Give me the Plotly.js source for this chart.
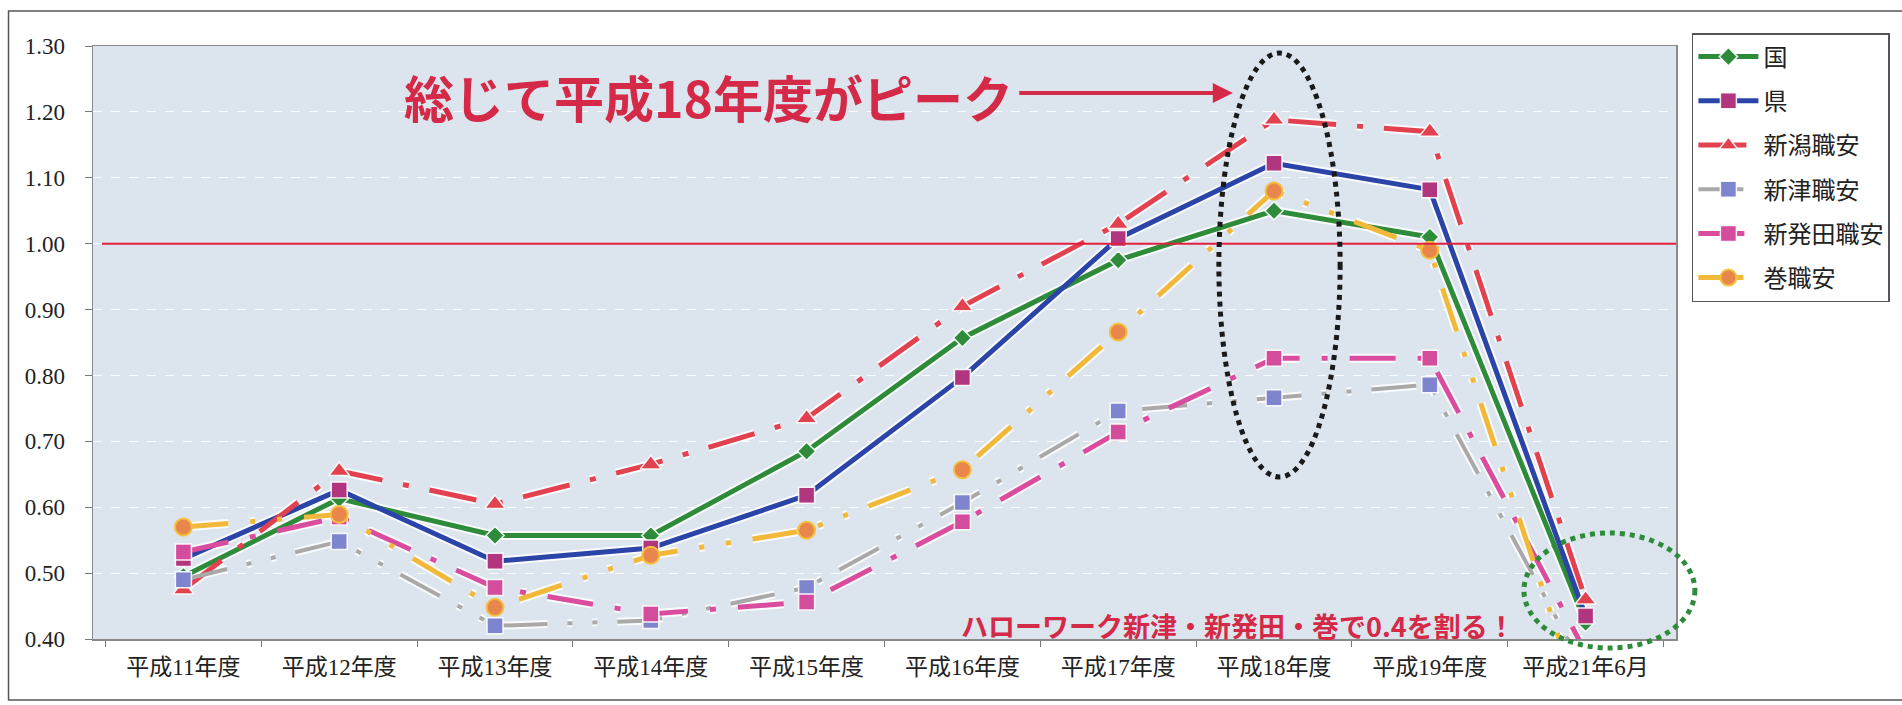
<!DOCTYPE html>
<html><head><meta charset="utf-8">
<script src="https://cdn.plot.ly/plotly-3.0.1.min.js"></script>
<style>html,body{margin:0;padding:0;background:#fff}#chart{width:1902px;height:705px}</style>
</head><body><div id="chart"></div>
<script>
// ---- data ----
const categories = ['平成11年度','平成12年度','平成13年度','平成14年度','平成15年度','平成16年度','平成17年度','平成18年度','平成19年度','平成21年6月'];
const seriesNames = ['国','県','新潟職安','新津職安','新発田職安','巻職安'];
const kuni     = [0.495, 0.613, 0.557, 0.557, 0.685, 0.857, 0.975, 1.050, 1.010, 0.425];
const ken      = [0.522, 0.626, 0.518, 0.538, 0.618, 0.797, 1.008, 1.122, 1.082, 0.435];
const niigata  = [0.475, 0.655, 0.605, 0.665, 0.735, 0.905, 1.030, 1.188, 1.170, 0.460];
const niitsu   = [0.490, 0.548, 0.420, 0.428, 0.478, 0.607, 0.746, 0.766, 0.786, 0.350];
const shibata  = [0.532, 0.585, 0.478, 0.438, 0.456, 0.578, 0.714, 0.826, 0.826, 0.380];
const maki     = [0.570, 0.589, 0.448, 0.527, 0.565, 0.657, 0.866, 1.080, 0.990, 0.280];
const yTickVals = [0.40,0.50,0.60,0.70,0.80,0.90,1.00,1.10,1.20,1.30];
const peakText = '総じて平成18年度がピーク';
const bottomText = 'ハローワーク新津・新発田・巻で0.4を割る！';

// ---- styles ----
const values = [kuni, ken, niigata, niitsu, shibata, maki];
const styles = [
  {color:'#2e8b3a', width:5, dash:'solid', marker:{symbol:'diamond', size:14, color:'#2e8b3a'}},
  {color:'#2a44a8', width:5, dash:'solid', marker:{symbol:'square', size:16, color:'#b2357f'}},
  {color:'#e2424f', width:5, dash:'48px,21px,6px,21px', marker:{symbol:'triangle-up', size:18, color:'#e2424f'}},
  {color:'#a9a9a9', width:4, dash:'45px,20px,5px,20px,5px,20px', marker:{symbol:'square', size:16, color:'#7f84cf'}},
  {color:'#d94c9e', width:5, dash:'46px,22px,6px,22px', marker:{symbol:'square', size:16, color:'#d44c9c'}},
  {color:'#f2b83a', width:5, dash:'45px,22px,5px,22px,5px,22px', marker:{symbol:'circle', size:17, color:'#e8864c', lineColor:'#f4c040'}}
];

const traces = [];
// white halos under lines
values.forEach((v,i)=>{
  const s = styles[i];
  traces.push({x:categories, y:v, type:'scatter', mode:'lines', showlegend:false, hoverinfo:'skip',
    line:{color:'rgba(255,255,255,0.85)', width:s.width+4, dash:s.dash}});
});
values.forEach((v,i)=>{
  const s = styles[i];
  traces.push({x:categories, y:v, type:'scatter', mode:'lines+markers', name:seriesNames[i],
    legendgroup:'g'+i,
    line:{color:s.color, width:s.width, dash:s.dash},
    marker:{symbol:s.marker.symbol, size:s.marker.size, color:s.marker.color,
      line:{color:s.marker.lineColor || 'rgba(255,255,255,0.9)', width:s.marker.lineColor?2:1.5}}});
});

const L=93, R=1686, T=46, B=639;
const px = x => (x-L)/(R-L);
const py = y => (B-y)/(B-T);
const red = '#d42a48';
const baseFont = '"Liberation Serif", "Noto Sans CJK JP", serif';

const layout = {
  width:1902, height:705,
  margin:{l:L, r:1902-R, t:T, b:705-B, pad:0},
  paper_bgcolor:'#ffffff', plot_bgcolor:'#dce5ee',
  font:{family:baseFont, size:22, color:'#222'},
  showlegend:true,
  legend:{x:px(1702), y:py(33), xanchor:'left', yanchor:'top', bgcolor:'#ffffff', bordercolor:'#555', borderwidth:1.5,
    font:{family:baseFont, size:24, color:'#222'},
    traceorder:'grouped', tracegroupgap:10, itemwidth:60},
  xaxis:{type:'category', tickson:'boundaries', ticks:'outside', ticklen:6, tickcolor:'#777',
    showline:true, linecolor:'#8a8a8a', linewidth:1.5, mirror:true, showgrid:false,
    tickfont:{size:23}, ticklabelstandoff:7, zeroline:false, fixedrange:true},
  yaxis:{range:[0.4,1.3], tickvals:yTickVals, tickformat:'.2f', ticks:'outside', ticklen:7, tickcolor:'#777',
    showline:true, linecolor:'#8a8a8a', linewidth:1.5, mirror:true,
    gridcolor:'rgba(255,255,255,0.9)', griddash:'dash', gridwidth:1,
    tickfont:{size:23}, ticklabelstandoff:15, zeroline:false, fixedrange:true},
  shapes:[
    // outer frame
    {type:'rect', xref:'paper', yref:'paper', x0:px(8), x1:px(1915), y0:py(700), y1:py(11), line:{color:'#555', width:1.5}, layer:'below'},
    // 1.00 reference line
    {type:'line', xref:'paper', yref:'y', x0:px(102), x1:1, y0:1.0, y1:1.0, line:{color:'#e0203c', width:2}},
    // black dotted ellipse
    {type:'circle', xref:'paper', yref:'paper', x0:px(1226), x1:px(1348), y0:py(477), y1:py(53), line:{color:'#1a1a1a', width:5, dash:'5px,5px'}},
    // green dotted ellipse
    {type:'circle', xref:'paper', yref:'paper', x0:px(1533), x1:px(1705), y0:py(648), y1:py(533), line:{color:'#2e8b3a', width:5, dash:'5px,5px'}}
  ],
  annotations:[
    {xref:'paper', yref:'paper', x:px(404), y:py(96), xanchor:'left', yanchor:'middle', showarrow:false,
      text:peakText, font:{family:'"Noto Sans CJK JP", sans-serif', size:50, color:red, weight:'bold'}},
    {xref:'paper', yref:'paper', x:px(1240), y:py(93), ax:-215, ay:0, text:'', showarrow:true,
      arrowhead:2, arrowsize:1, arrowwidth:4, arrowcolor:red},
    {xref:'paper', yref:'paper', x:px(1245), y:py(625), xanchor:'center', yanchor:'middle', showarrow:false,
      text:bottomText, font:{family:'"Noto Sans CJK JP", sans-serif', size:27, color:red, weight:'bold'}}
  ]
};

Plotly.newPlot('chart', traces, layout, {staticPlot:true, displayModeBar:false});
</script>
</body></html>
